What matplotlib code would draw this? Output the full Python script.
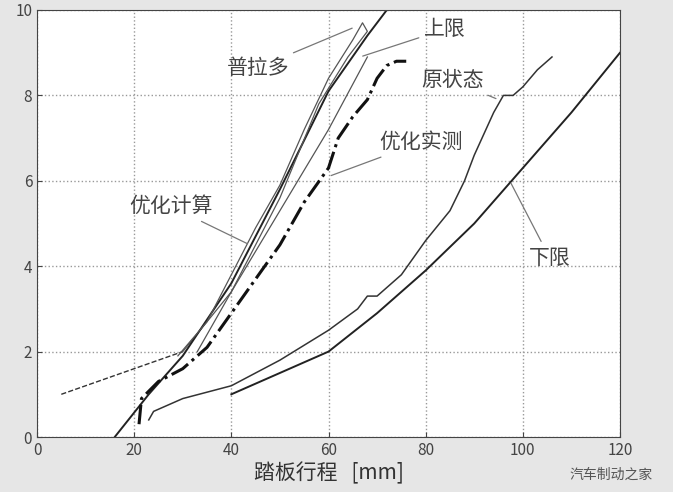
import matplotlib.pyplot as plt

plt.rcParams['font.family'] = ['Noto Sans CJK SC', 'DejaVu Sans']

# curve data (pedal travel mm, output)
upper_dash_x = [5, 30]
upper_dash_y = [1.0, 2.0]
upper_x = [30, 40, 50, 60, 68]
upper_y = [2.0, 3.4, 5.3, 7.2, 8.9]
calc_x = [16, 23, 30, 40, 50, 60, 68, 72]
calc_y = [0.0, 1.0, 1.9, 3.6, 5.8, 8.1, 9.4, 10.0]
prado_x = [29, 35, 40, 45, 50, 55, 60, 65, 67, 68, 64, 58, 50, 45, 40, 33]
prado_y = [1.9, 2.7, 3.8, 4.9, 5.9, 7.2, 8.4, 9.3, 9.7, 9.5, 8.9, 7.8, 5.6, 4.5, 3.4, 2.0]
meas_x = [21, 21.5, 25, 30, 35, 40, 45, 50, 55, 60, 62, 65, 68, 70, 72, 74, 76]
meas_y = [0.3, 0.9, 1.3, 1.6, 2.1, 2.9, 3.7, 4.5, 5.5, 6.3, 7.0, 7.5, 7.9, 8.4, 8.7, 8.8, 8.8]
orig_x = [23, 24, 30, 35, 40, 50, 60, 66, 68, 70, 75, 80, 85, 88, 90, 92, 94, 96, 98, 100, 103, 106]
orig_y = [0.4, 0.6, 0.9, 1.05, 1.2, 1.8, 2.5, 3.0, 3.3, 3.3, 3.8, 4.6, 5.3, 6.0, 6.6, 7.1, 7.6, 8.0, 8.0, 8.2, 8.6, 8.9]
lower_x = [40, 50, 60, 70, 80, 90, 100, 110, 120]
lower_y = [1.0, 1.5, 2.0, 2.9, 3.9, 5.0, 6.3, 7.6, 9.0]

fig = plt.figure(figsize=(6.73, 4.92), dpi=100, facecolor='#e6e6e6')
ax = fig.add_axes([37 / 673, 55 / 492, 583 / 673, 427 / 492])
ax.set_facecolor('white')

ax.plot(upper_dash_x, upper_dash_y, color='#333333', lw=1, ls='--')
ax.plot(upper_x, upper_y, color='#555555', lw=0.9)
ax.plot(calc_x, calc_y, color='#222222', lw=1.4)
ax.plot(prado_x, prado_y, color='#555555', lw=0.9)
ax.plot(meas_x, meas_y, color='#111111', lw=2.2, ls='-.')
ax.plot(orig_x, orig_y, color='#333333', lw=1.1)
ax.plot(lower_x, lower_y, color='#222222', lw=1.4)

ax.set_xlim(0, 120)
ax.set_ylim(0, 10)
ax.set_xticks(range(0, 121, 20))
ax.set_yticks(range(0, 11, 2))
ax.grid(True, ls=':', color='#999999', lw=1)
ax.tick_params(labelsize=11, colors='#444444', direction='in')
ax.set_xlabel('踏板行程   [mm]', fontsize=15, color='#333333', labelpad=2)
for s in ax.spines.values():
    s.set_color('#444444')

lab = dict(fontsize=15, color='#444444', ha='center', va='center')
ann = dict(arrowstyle='-', color='#777777', lw=0.9)
ax.annotate('普拉多', xy=(65.4, 9.6), xytext=(45.5, 8.65), arrowprops=ann, **lab)
ax.annotate('上限', xy=(66.5, 8.9), xytext=(84, 9.55), arrowprops=ann, **lab)
ax.annotate('原状态', xy=(95, 7.9), xytext=(85.5, 8.35), arrowprops=ann, **lab)
ax.annotate('优化实测', xy=(60, 6.1), xytext=(79, 6.9), arrowprops=ann, **lab)
ax.annotate('优化计算', xy=(43.8, 4.5), xytext=(27.5, 5.4), arrowprops=ann, **lab)
ax.annotate('下限', xy=(97.3, 6.0), xytext=(105.5, 4.2), arrowprops=ann, **lab)

fig.text(0.97, 0.035, '汽车制动之家', fontsize=10, color='#555555', ha='right', va='center')
fig.savefig('out.png', dpi=100, facecolor=fig.get_facecolor())
